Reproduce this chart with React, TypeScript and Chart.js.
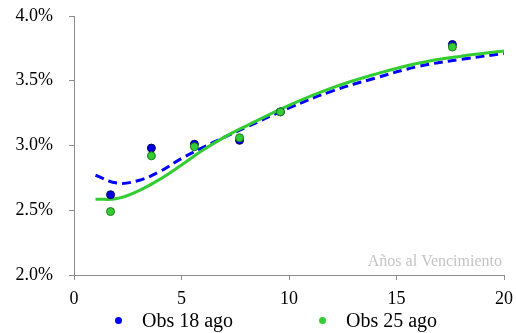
import React, { useEffect, useRef } from "react";
import { Chart, registerables } from "chart.js";

Chart.register(...registerables);

const obsMaturities = [1.7, 3.6, 5.6, 7.7, 9.6, 17.6];
const obs18 = [2.62, 2.98, 3.01, 3.04, 3.26, 3.78];
const obs25 = [2.49, 2.92, 2.99, 3.06, 3.26, 3.76];

const curveMaturities = [1, 2, 3, 4, 5, 6, 7, 8, 10, 12, 14, 16, 18, 20];
const fit18 = [2.77, 2.71, 2.73, 2.8, 2.9, 2.985, 3.065, 3.14, 3.29, 3.42, 3.52, 3.61, 3.665, 3.71];
const fit25 = [2.585, 2.59, 2.65, 2.74, 2.85, 2.965, 3.065, 3.15, 3.31, 3.445, 3.55, 3.635, 3.69, 3.73];

const legendLabels = ["Obs 18 ago", "Obs 25 ago"];
const axisNote = "Años al Vencimiento";

const SERIF = '"Liberation Serif", "Times New Roman", serif';
const BLUE = "#0000ff";
const GREEN = "#33cc33";

const pts = (xs: number[], ys: number[]) => xs.map((x, i) => ({ x, y: ys[i] }));

const notePlugin = {
  id: "axisNote",
  afterDatasetsDraw(chart: any) {
    const { ctx, chartArea } = chart;
    ctx.save();
    ctx.font = `16px ${SERIF}`;
    ctx.fillStyle = "#c4c4c4";
    ctx.textAlign = "right";
    ctx.textBaseline = "alphabetic";
    ctx.fillText(axisNote, chartArea.right - 2, chartArea.bottom - 9);
    ctx.restore();
  },
};

export default function App() {
  const ref = useRef<HTMLCanvasElement | null>(null);

  useEffect(() => {
    if (!ref.current) return;
    const chart = new Chart(ref.current, {
      type: "scatter",
      data: {
        datasets: [
          {
            label: legendLabels[1],
            data: pts(obsMaturities, obs25),
            backgroundColor: GREEN,
            borderColor: "#1f7a1f",
            borderWidth: 1,
            pointRadius: 4,
            showLine: false,
          },
          {
            label: legendLabels[0],
            data: pts(obsMaturities, obs18),
            backgroundColor: "#0000e0",
            borderColor: "#00006a",
            borderWidth: 1,
            pointRadius: 4,
            showLine: false,
          },
          {
            label: "fit25",
            data: pts(curveMaturities, fit25),
            borderColor: GREEN,
            borderWidth: 3,
            pointRadius: 0,
            showLine: true,
            tension: 0.4,
          },
          {
            label: "fit18",
            data: pts(curveMaturities, fit18),
            borderColor: BLUE,
            borderWidth: 3,
            borderDash: [9, 5],
            pointRadius: 0,
            showLine: true,
            tension: 0.4,
          },
        ],
      } as any,
      options: {
        animation: false,
        responsive: false,
        maintainAspectRatio: false,
        layout: { padding: { top: 16, right: 12, left: 0, bottom: 28 } },
        plugins: {
          legend: { display: false },
          tooltip: { enabled: false },
        },
        scales: {
          x: {
            type: "linear",
            min: 0,
            max: 20,
            ticks: {
              stepSize: 5,
              color: "#000",
              padding: 8,
              font: { family: SERIF, size: 18 },
            },
            grid: {
              display: true,
              drawOnChartArea: false,
              drawTicks: true,
              tickLength: 5,
              color: "#8c8c8c",
            },
            border: { color: "#8c8c8c", width: 1 },
            afterFit: (s: any) => {
              s.height = 30;
              s.paddingLeft = 0;
              s.paddingRight = 0;
            },
          },
          y: {
            min: 2.0,
            max: 4.0,
            ticks: {
              stepSize: 0.5,
              color: "#000",
              padding: 16,
              font: { family: SERIF, size: 18 },
              callback: (v: any) => Number(v).toFixed(1) + "%",
            },
            grid: {
              display: true,
              drawOnChartArea: false,
              drawTicks: true,
              tickLength: 5,
              color: "#8c8c8c",
            },
            border: { color: "#8c8c8c", width: 1 },
            afterFit: (s: any) => {
              s.width = 74;
              s.paddingTop = 0;
              s.paddingBottom = 0;
            },
          },
        },
      } as any,
      plugins: [notePlugin],
    });
    return () => chart.destroy();
  }, []);

  const legendItem = (label: string, color: string, left: number) => (
    <div
      key={label}
      style={{
        position: "absolute",
        left,
        top: 308,
        display: "flex",
        alignItems: "center",
        fontFamily: SERIF,
        fontSize: 20,
        lineHeight: "24px",
        color: "#000",
        whiteSpace: "nowrap",
      }}
    >
      <span
        style={{
          display: "inline-block",
          width: 7,
          height: 7,
          borderRadius: "50%",
          background: color,
          marginRight: 20,
        }}
      />
      {label}
    </div>
  );

  return (
    <div style={{ position: "fixed", left: 0, top: 0, width: 516, height: 333 }}>
      <canvas ref={ref} width={516} height={333} style={{ display: "block" }} />
      {legendItem(legendLabels[0], BLUE, 115)}
      {legendItem(legendLabels[1], GREEN, 319)}
    </div>
  );
}
